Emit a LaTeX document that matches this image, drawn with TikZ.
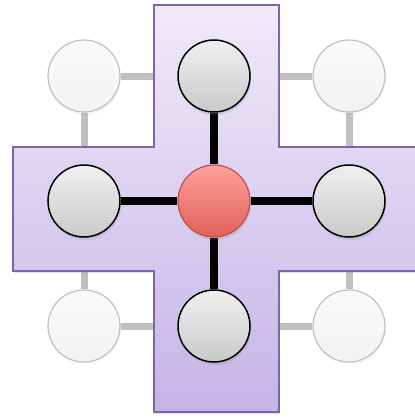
\documentclass[tikz,border=0pt]{standalone}
\usepackage{xcolor}
\definecolor{crossline}{RGB}{128, 100, 170}
\definecolor{crosstop}{RGB}{240, 234, 250}
\definecolor{crossbot}{RGB}{196, 180, 230}
\definecolor{hubtop}{RGB}{255, 160, 156}
\definecolor{hubbot}{RGB}{226, 96, 90}
\definecolor{hubline}{RGB}{190, 78, 74}
\definecolor{fadeline}{RGB}{192, 192, 192}
\usepackage{tikz}
\usetikzlibrary{shadows}

\pgfdeclarelayer{back}
\pgfdeclarelayer{mid}
\pgfdeclarelayer{links}
\pgfsetlayers{back,mid,links,main}

\begin{document}
\begin{tikzpicture}[x=1pt, y=-1pt,
    peer/.style={circle, minimum size=72pt, inner sep=0pt, line width=1.5pt, draw=black,
        top color=gray!12, bottom color=gray!42,
        drop shadow={shadow xshift=1pt, shadow yshift=-3pt, opacity=0.2}},
    faded/.style={circle, minimum size=72pt, inner sep=0pt, line width=1.2pt, draw=fadeline,
        top color=gray!4, bottom color=gray!10,
        drop shadow={shadow xshift=1pt, shadow yshift=-3pt, opacity=0.06}},
    hub/.style={peer, draw=hubline, line width=1.2pt, top color=hubtop, bottom color=hubbot},
    fadelink/.style={line width=7pt, draw=fadeline},
    peerlink/.style={line width=8pt, draw=black}]

    \useasboundingbox (0,0) rectangle (415,418);

    % Outer ring, faded
    \node[faded] (nw) at (84,76) {};
    \node[faded] (ne) at (349,76) {};
    \node[faded] (sw) at (84,326) {};
    \node[faded] (se) at (349,326) {};

    % Neighbours and hub
    \node[peer] (n) at (214,76) {};
    \node[peer] (w) at (84,201) {};
    \node[peer] (e) at (349,201) {};
    \node[peer] (s) at (214,326) {};
    \node[hub] (c) at (214,201) {};

    % Faded links behind the cross
    \begin{pgfonlayer}{back}
    \draw[fadelink] (nw) -- (n);
    \draw[fadelink] (nw) -- (w);
    \draw[fadelink] (ne) -- (n);
    \draw[fadelink] (ne) -- (e);
    \draw[fadelink] (sw) -- (s);
    \draw[fadelink] (sw) -- (w);
    \draw[fadelink] (se) -- (s);
    \draw[fadelink] (se) -- (e);
    \end{pgfonlayer}

    % Cross
    \begin{pgfonlayer}{mid}
    \path[draw=crossline, line width=1.2pt, top color=crosstop, bottom color=crossbot,
        drop shadow={shadow xshift=1pt, shadow yshift=-2pt, opacity=0.2}]
        (154,5) -- (279,5) -- (279,147) -- (418,147) -- (418,271) -- (279,271)
        -- (279,412) -- (154,412) -- (154,271) -- (13,271) -- (13,147) -- (154,147) -- cycle;
    \end{pgfonlayer}

    % Links to the hub
    \begin{pgfonlayer}{links}
    \draw[peerlink] (c) -- (n);
    \draw[peerlink] (c) -- (w);
    \draw[peerlink] (c) -- (e);
    \draw[peerlink] (c) -- (s);
    \end{pgfonlayer}

\end{tikzpicture}
\end{document}
